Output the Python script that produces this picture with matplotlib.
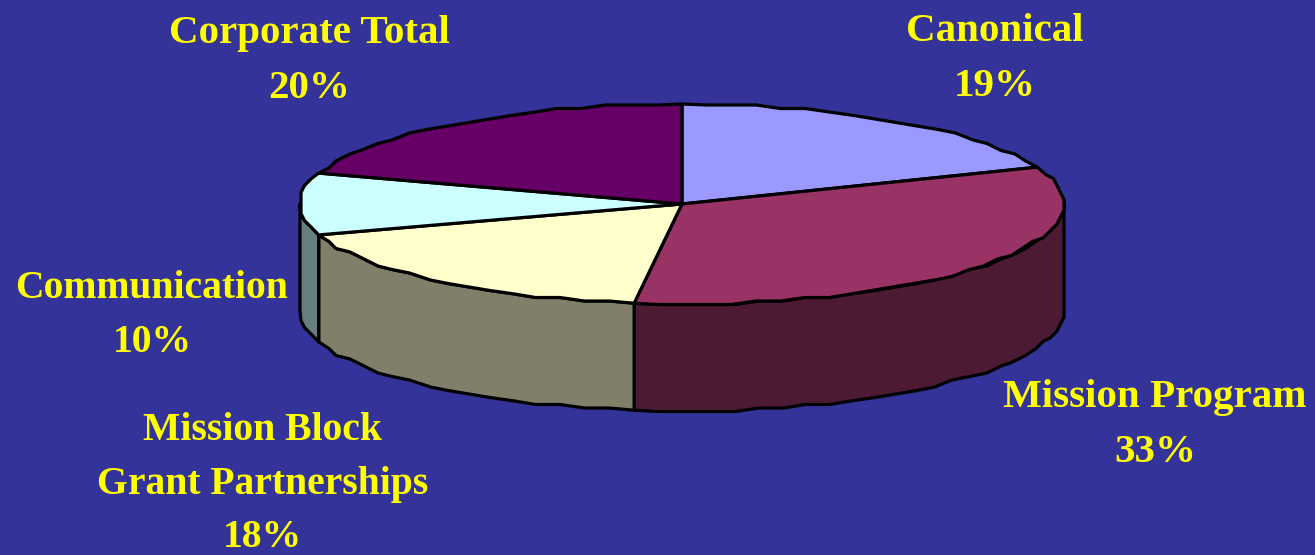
"""Funding shares drawn as a tilted pie with an extruded rim."""
import numpy as np
import matplotlib
matplotlib.use("Agg")
import matplotlib.pyplot as plt
from matplotlib.patches import Polygon

W, H = 1315, 555
CX, CY = 682, 204            # centre of the top face
RX, RY = 382, 100            # ellipse radii of the top face
DEPTH = 107                  # rim height
GRID = 3.5                   # outline coordinates sit on a coarse lattice

labels = ["Canonical", "Mission Program", "Mission Block\nGrant Partnerships",
          "Communication", "Corporate Total"]
shares = [19, 33, 18, 10, 20]
top_colors = ["#9999ff", "#993366", "#ffffcc", "#ccffff", "#660066"]
side_colors = ["#4d4d80", "#4d1a33", "#80806a", "#668080", "#330033"]
label_xy = [(995, 13), (1155, 379), (263, 412), (152, 270), (309, 15)]
label_size = [29.5, 29.5, 28.5, 28.5, 29.5]
line_gap = [1.63, 1.63, 1.59, 1.6, 1.63]


def rim(a, b):
    # angles run clockwise from 12 o'clock; chunky steps give the rough outline
    n = max(int((b - a) * RX / 24), 3)
    t = np.linspace(a, b, n)
    pts = np.column_stack([CX + RX * np.sin(t), CY - RY * np.cos(t)])
    inner = pts[1:-1]
    pts[1:-1] = np.round(inner / GRID) * GRID
    return pts


fig = plt.figure(figsize=(W / 100, H / 100), dpi=100, facecolor="#333399")
ax = fig.add_axes([0, 0, 1, 1])
ax.set_xlim(0, W); ax.set_ylim(H, 0); ax.axis("off")

edges = np.radians(np.cumsum([0] + shares) * 3.6)
for i, (a, b) in enumerate(zip(edges[:-1], edges[1:])):
    # only the front half of the rim is visible
    lo, hi = max(a, np.pi / 2), min(b, 3 * np.pi / 2)
    if hi > lo:
        arc = rim(lo, hi)
        low = arc[::-1] + [0, DEPTH]
        ax.add_patch(Polygon(np.vstack([arc, low]), closed=True, fc=side_colors[i],
                             ec="black", lw=2.3, joinstyle="round", zorder=2))

for i, (a, b) in enumerate(zip(edges[:-1], edges[1:])):
    arc = rim(a, b)
    ax.add_patch(Polygon(np.vstack([[CX, CY], arc]), closed=True, fc=top_colors[i],
                         ec="black", lw=2.3, joinstyle="round", zorder=3))

for lab, s, (x, y), fs, gap in zip(labels, shares, label_xy, label_size, line_gap):
    ax.text(x, y, f"{lab}\n{s}%", color="#ffff00", ha="center", va="top",
            fontsize=fs, fontweight="bold", family="Liberation Serif",
            linespacing=gap, zorder=5, clip_on=False)

fig.savefig("out.png", dpi=100, facecolor=fig.get_facecolor())
